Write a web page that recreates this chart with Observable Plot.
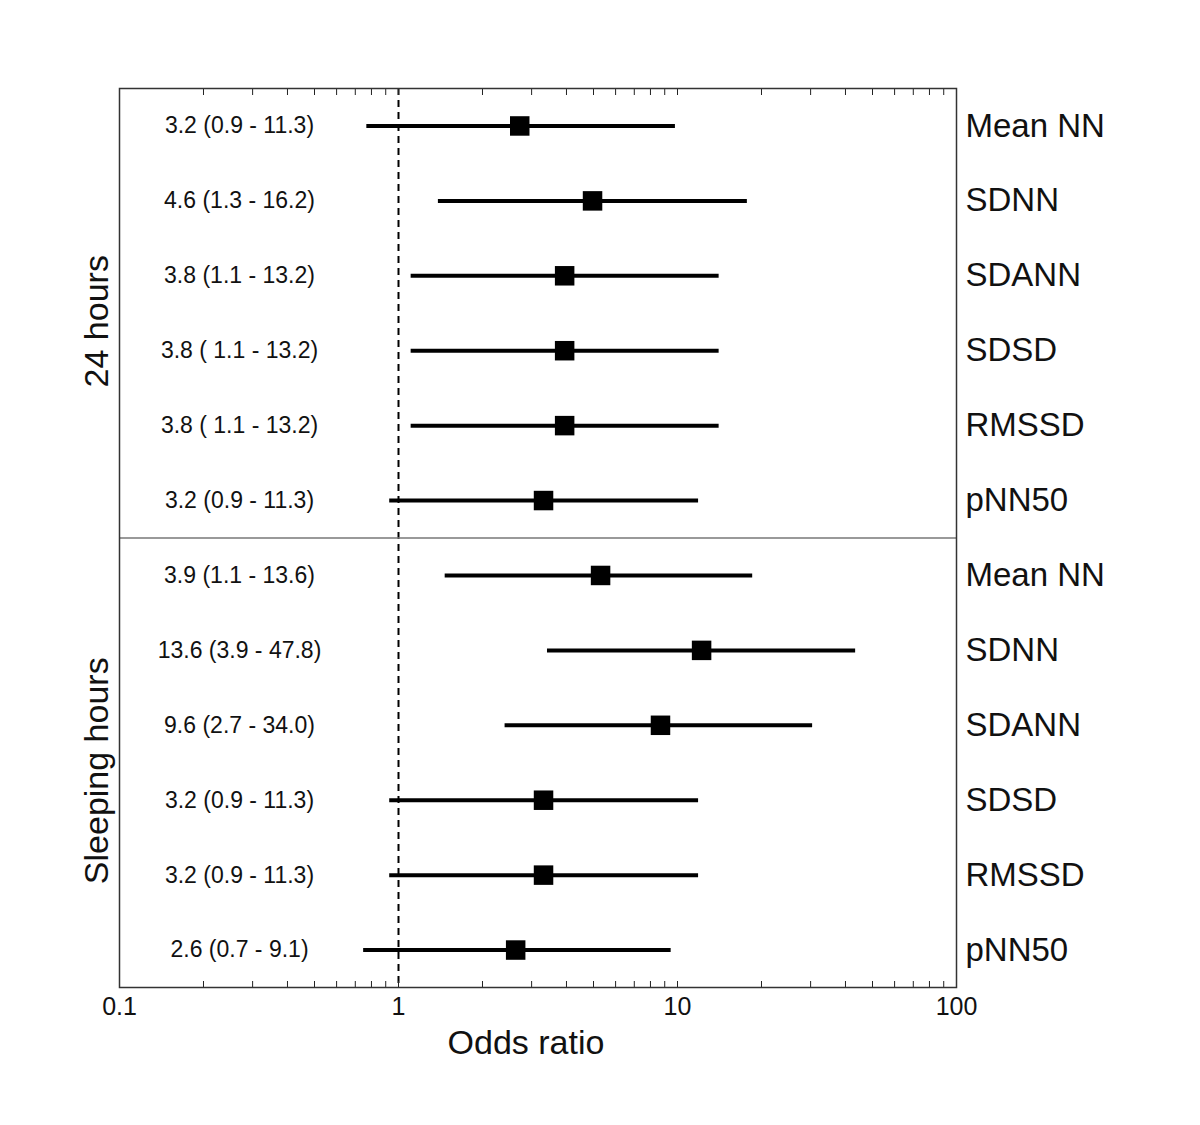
<!DOCTYPE html>
<html><head><meta charset="utf-8">
<script src="https://cdn.jsdelivr.net/npm/d3@7"></script>
<script src="https://cdn.jsdelivr.net/npm/@observablehq/plot@0.6"></script>
<style>body{margin:0;background:#fff}</style>
</head><body><div id="chart"></div>
<script>
const periods = ["24 hours", "Sleeping hours"];
const measures = ["Mean NN", "SDNN", "SDANN", "SDSD", "RMSSD", "pNN50"];
const labels24 = ["3.2 (0.9 - 11.3)", "4.6 (1.3 - 16.2)", "3.8 (1.1 - 13.2)", "3.8 ( 1.1 - 13.2)", "3.8 ( 1.1 - 13.2)", "3.2 (0.9 - 11.3)"];
const labelsSleep = ["3.9 (1.1 - 13.6)", "13.6 (3.9 - 47.8)", "9.6 (2.7 - 34.0)", "3.2 (0.9 - 11.3)", "3.2 (0.9 - 11.3)", "2.6 (0.7 - 9.1)"];
// odds ratios and CI bounds as plotted in the picture
const or24 = [2.72, 4.96, 3.94, 3.94, 3.94, 3.31];
const lo24 = [0.77, 1.39, 1.11, 1.11, 1.11, 0.93];
const hi24 = [9.83, 17.8, 14.1, 14.1, 14.1, 11.9];
const orSleep = [5.30, 12.2, 8.69, 3.31, 3.31, 2.63];
const loSleep = [1.47, 3.42, 2.41, 0.93, 0.93, 0.75];
const hiSleep = [18.6, 43.5, 30.5, 11.9, 11.9, 9.49];
const majorTicks = [0.1, 1, 10, 100];
const majorTickLabels = ["0.1", "1", "10", "100"];
const minorTicks = [0.2, 0.3, 0.4, 0.5, 0.6, 0.7, 0.8, 0.9, 2, 3, 4, 5, 6, 7, 8, 9, 20, 30, 40, 50, 60, 70, 80, 90];

const rows = [];
measures.forEach((m, i) => rows.push({row: i, measure: m, label: labels24[i], or: or24[i], lo: lo24[i], hi: hi24[i]}));
measures.forEach((m, i) => rows.push({row: 6 + i, measure: m, label: labelsSleep[i], or: orSleep[i], lo: loSleep[i], hi: hiSleep[i]}));
const ypos = d => d.row + 0.5;
const allTicks = majorTicks.concat(minorTicks);

const chart = Plot.plot({
  width: 1200, height: 1125,
  marginLeft: 119, marginRight: 244, marginTop: 88, marginBottom: 138,
  style: {fontFamily: "'Liberation Sans', Arial, sans-serif", background: "#fff", color: "#000"},
  x: {type: "log", domain: [0.1, 100]},
  y: {domain: [0, 12], reverse: true, axis: null},
  marks: [
    Plot.ruleX([1], {strokeDasharray: "7,5", strokeWidth: 2, stroke: "#000"}),
    Plot.ruleY([6], {stroke: "#777", strokeWidth: 1.5}),
    Plot.ruleY(rows, {y: ypos, x1: "lo", x2: "hi", strokeWidth: 4, stroke: "#000"}),
    Plot.dot(rows, {x: "or", y: ypos, symbol: "square", r: 11, fill: "#000", stroke: null}),
    Plot.text(rows, {y: ypos, text: "label", frameAnchor: "left", textAnchor: "middle", dx: 120, fontSize: 23, fill: "#111"}),
    Plot.text(rows, {y: ypos, text: "measure", frameAnchor: "right", textAnchor: "start", dx: 9, fontSize: 33, fill: "#111"}),
    Plot.text(periods, {y: (d, i) => i * 6 + 3, text: d => d, frameAnchor: "left", textAnchor: "middle", dx: -22, dy: 8, rotate: -90, fontSize: 34, fill: "#111"}),
    Plot.axisX({anchor: "bottom", ticks: allTicks, tickSize: -6, tickFormat: () => "", label: null, stroke: "#222"}),
    Plot.axisX({anchor: "top", ticks: allTicks, tickSize: -6, tickFormat: () => "", label: null, stroke: "#222"}),
    Plot.text(majorTicks, {x: d => d, text: (d, i) => majorTickLabels[i], frameAnchor: "bottom", dy: 27, fontSize: 25, fill: "#111"}),
    Plot.text(["Odds ratio"], {frameAnchor: "bottom", dy: 66, dx: -12, fontSize: 34, fill: "#111"}),
    Plot.frame({stroke: "#333", strokeWidth: 1.5})
  ]
});
document.getElementById("chart").appendChild(chart);
</script>
</body></html>
